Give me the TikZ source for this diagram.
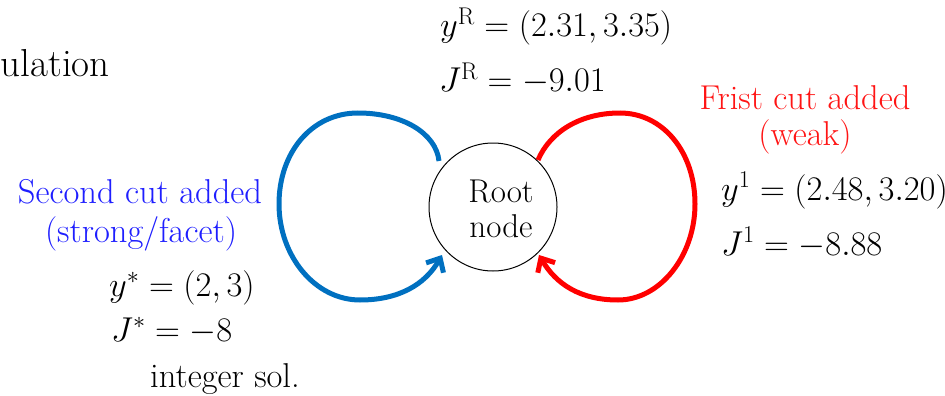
\RequirePackage{fix-cm}
\documentclass[tikz,border=0pt]{standalone}
\usetikzlibrary{arrows.meta}
\definecolor{loopblue}{RGB}{0,112,192}
\definecolor{txtblue}{RGB}{30,30,255}
\definecolor{txtred}{RGB}{255,20,20}
\definecolor{loopred}{RGB}{255,0,0}
\tikzset{
  big/.style={font=\fontsize{34.5}{40}\selectfont, inner sep=0pt},
  rootfont/.style={font=\fontsize{33}{40}\selectfont, inner sep=0pt},
  titlefont/.style={font=\fontsize{39}{46}\selectfont, inner sep=0pt},
  rootnode/.style={draw, circle, line width=1pt, minimum size=128pt, inner sep=0pt},
  bloop/.style={draw=loopblue, line width=5pt, -{Straight Barb[length=11pt,width=20pt,line width=5pt]}},
  rloop/.style={draw=loopred, line width=5pt, -{Straight Barb[length=11pt,width=20pt,line width=5pt]}},
}
\begin{document}
\begin{tikzpicture}[x=1pt,y=-1pt]
\useasboundingbox (0,0) rectangle (945,396);
\node[rootnode] (root) at (493,207) {};
\node[rootfont, anchor=base] (rt1) at (501,202) {Root};
\node[rootfont, anchor=base] (rt2) at (501,237) {node};

\node[titlefont, anchor=base east] (form) at (110,77) {ulation};

\node[big, anchor=base west] (yR) at (440,37) {$y^{\mathrm{R}} = (2.31, 3.35)$};
\node[big, anchor=base west] (JR) at (439,92) {$J^{\mathrm{R}} = -9.01$};

\node[big, anchor=base, text=txtred] (fc1) at (805,110) {Frist cut added};
\node[big, anchor=base, text=txtred] (fc2) at (805,145) {(weak)};
\node[big, anchor=base west] (y1) at (721,200) {$y^{1} = (2.48, 3.20)$};
\node[big, anchor=base west] (J1) at (721,255) {$J^{1} = -8.88$};

\node[big, anchor=base, text=txtblue] (sc1) at (140,203) {Second cut added};
\node[big, anchor=base, text=txtblue] (sc2) at (141,242) {(strong/facet)};
\node[big, anchor=base west] (ys) at (109,296) {$y^{*} = (2, 3)$};
\node[big, anchor=base west] (Js) at (111,341) {$J^{*} = -8$};
\node[big, anchor=base west] (int) at (150,387) {integer sol.};

% blue loop
\coordinate (b0) at (439,161);
\coordinate (b1) at (358,113);
\coordinate (b2) at (279,204);
\coordinate (b3) at (360,300);
\coordinate (b4) at (442,255);
\draw[bloop] (b0) .. controls (436,133) and (402,113) .. (b1)
  .. controls (312,113) and (279,152) .. (b2)
  .. controls (279,256) and (315,300) .. (b3)
  .. controls (398,300) and (425,285) .. (b4);

% red loop
\coordinate (r0) at (538,160);
\coordinate (r1) at (620,113);
\coordinate (r2) at (695,204);
\coordinate (r3) at (618,300);
\coordinate (r4) at (539,255);
\draw[rloop] (r0) .. controls (550,132) and (580,113) .. (r1)
  .. controls (663,113) and (695,152) .. (r2)
  .. controls (695,256) and (660,300) .. (r3)
  .. controls (580,300) and (556,284) .. (r4);
\end{tikzpicture}
\end{document}
